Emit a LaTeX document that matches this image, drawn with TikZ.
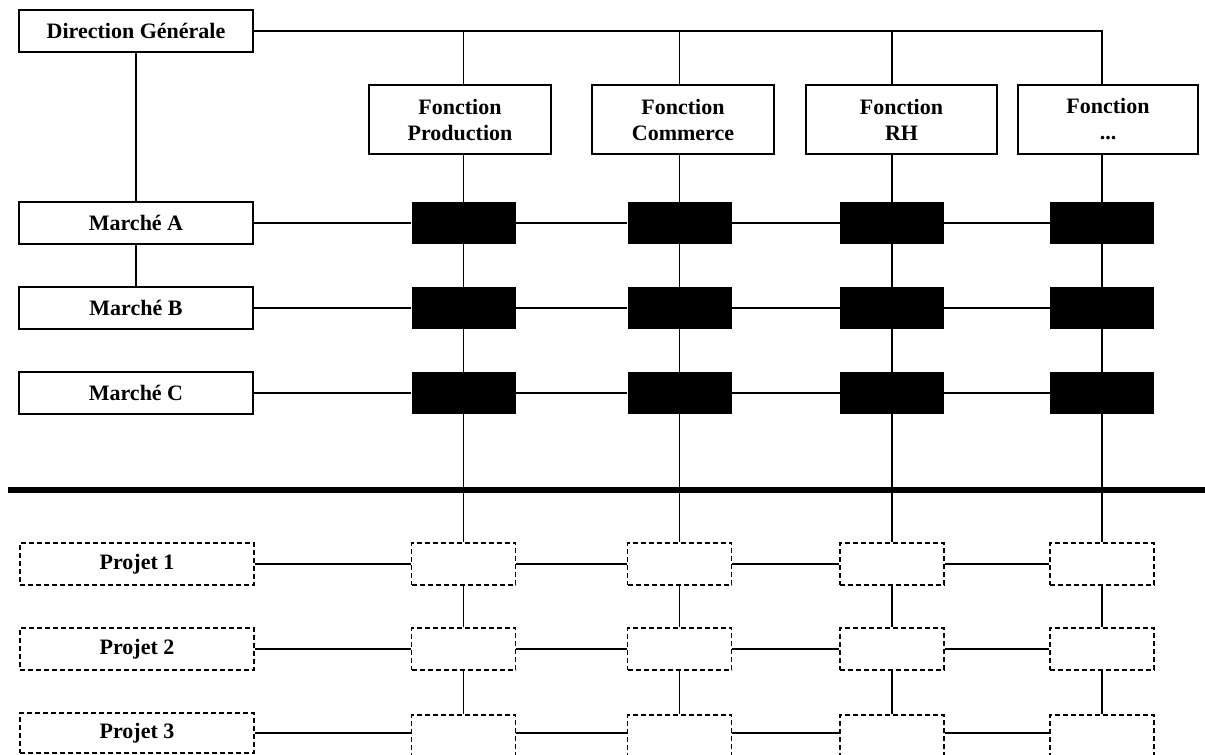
\documentclass[tikz,border=0pt]{standalone}
\usepackage{fontspec}
\setmainfont{Liberation Serif}
\begin{document}
\begin{tikzpicture}[x=1pt,y=-1pt,
  thin line/.style={line width=1.3pt},
  box/.style={draw,line width=1.3pt,fill=white,minimum height=42pt,inner sep=0pt,
    font=\fontsize{22}{26}\selectfont\bfseries,align=center},
  wide/.style={box,minimum width=234pt},
  fbox/.style={box,minimum height=69pt},
  blk/.style={fill=black,minimum width=104pt,minimum height=42pt,inner sep=0pt},
  dbox/.style={draw,dashed,dash pattern=on 5pt off 3pt,line width=1.3pt,fill=white,
    minimum width=104pt,minimum height=42pt,inner sep=0pt,
    font=\fontsize{22}{26}\selectfont\bfseries},
  wdbox/.style={dbox,minimum width=234pt}]
\useasboundingbox (0,0) rectangle (1205,755);
\begin{scope}
\clip (0,0) rectangle (1205,755);
% left column
\node[wide] (dg) at (136,31) {Direction Générale};
\node[wide] (ma) at (136,223) {Marché A};
\node[wide] (mb) at (136,308) {Marché B};
\node[wide] (mc) at (136,393) {Marché C};
\node[wdbox] (p1) at (137,564) {Projet 1};
\node[wdbox] (p2) at (137,649) {Projet 2};
\node[wdbox,minimum height=40pt] (p3) at (137,733) {Projet 3};
% function boxes
\node[fbox,minimum width=182pt] (f1) at (460,119.5) {Fonction\\Production};
\node[fbox,minimum width=182pt] (f2) at (683,119.5) {Fonction\\Commerce};
\node[fbox,minimum width=191pt] (f3) at (901.5,119.5) {Fonction\\RH};
\node[fbox,minimum width=180pt] (f4) at (1108,119.5) {Fonction\\...};
% black and dashed boxes
\foreach \c/\x in {1/463.5,2/679.5,3/892,4/1102}{
  \foreach \r/\y in {1/223,2/308,3/393}{
    \node[blk] (b\r\c) at (\x,\y) {};
  }
  \foreach \r/\y in {1/564,2/649,3/736}{
    \node[dbox] (d\r\c) at (\x,\y) {};
  }
}
% connectors
\draw[thin line] (dg.east) -| (f4.north -| b14.center);
\foreach \c in {1,2,3}{
  \draw[thin line] (dg.east -| b1\c.center) -- (f\c.north -| b1\c.center);
}
\draw[line width=2.2pt] (dg.south) -- (ma.north);
\draw[thin line] (ma.south) -- (mb.north);
\foreach \c in {1,2,3,4}{
  \draw[thin line] (f\c.south -| b1\c.center) -- (b1\c.north);
  \draw[thin line] (b1\c.south) -- (b2\c.north);
  \draw[thin line] (b2\c.south) -- (b3\c.north);
  \draw[thin line] (b3\c.south) -- (d1\c.north);
  \draw[thin line] (d1\c.south) -- (d2\c.north);
  \draw[thin line] (d2\c.south) -- (d3\c.north);
}
\foreach \r/\m in {1/ma,2/mb,3/mc}{
  \draw[thin line] (\m.east) -- (b\r1.west);
  \draw[thin line] (b\r1.east) -- (b\r2.west);
  \draw[thin line] (b\r2.east) -- (b\r3.west);
  \draw[thin line] (b\r3.east) -- (b\r4.west);
}
\draw[thin line] (p1.east) -- (d11.west);
\draw[thin line] (p2.east) -- (d21.west);
\draw[line width=2.2pt] (p3.east) -- (p3.east -| d31.west);
\foreach \r in {1,2}{
  \draw[thin line] (d\r1.east) -- (d\r2.west);
  \draw[thin line] (d\r2.east) -- (d\r3.west);
  \draw[thin line] (d\r3.east) -- (d\r4.west);
}
\draw[thin line] (d31.east |- p3.east) -- (d32.west |- p3.east);
\draw[thin line] (d32.east |- p3.east) -- (d33.west |- p3.east);
\draw[thin line] (d33.east |- p3.east) -- (d34.west |- p3.east);
% separator
\coordinate (sl) at (8,490);
\coordinate (sr) at (1206,490);
\draw[line width=6.5pt] (sl) -- (sr);
\end{scope}
\end{tikzpicture}
\end{document}
